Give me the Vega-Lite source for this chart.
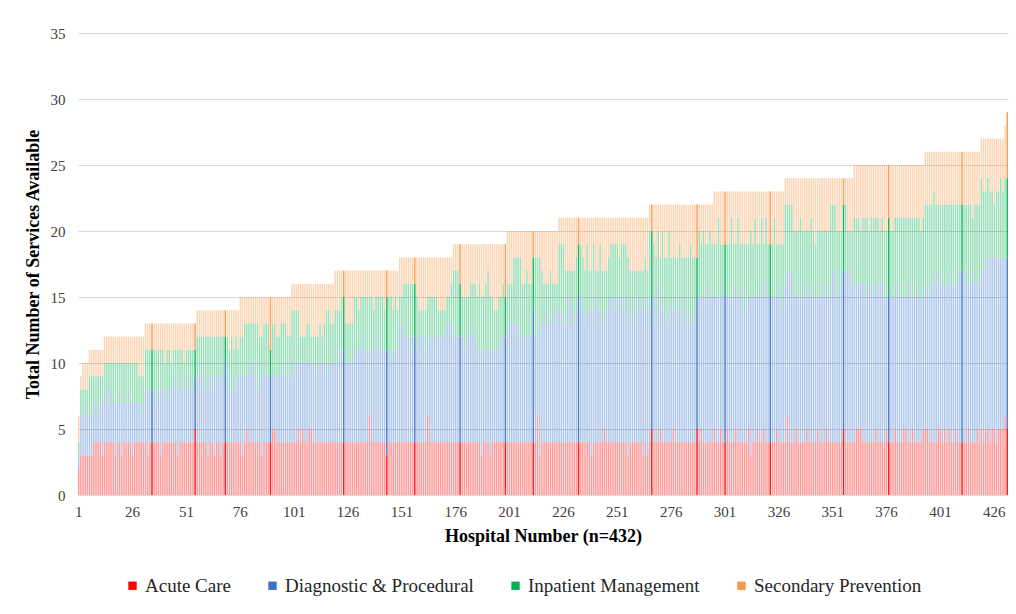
{
"$schema": "https://vega.github.io/schema/vega-lite/v6.json",
"width": 930,
"height": 462,
"autosize": {"type": "none"},
"padding": {"left": 78, "top": 33, "right": 8, "bottom": 119},
"background": "white",
"config": {"view": {"stroke": null}, "font": "Liberation Serif"},
"data": {"values": [
{"h":1,"a":2,"d":1,"i":1,"s":2},{"h":2,"a":3,"d":3,"i":2,"s":1},{"h":3,"a":3,"d":3,"i":2,"s":2},{"h":4,"a":3,"d":4,"i":1,"s":2},{"h":5,"a":3,"d":3,"i":2,"s":2},
{"h":6,"a":3,"d":3,"i":3,"s":2},{"h":7,"a":3,"d":3,"i":3,"s":2},{"h":8,"a":4,"d":3,"i":2,"s":2},{"h":9,"a":4,"d":3,"i":2,"s":2},{"h":10,"a":4,"d":2,"i":3,"s":2},{"h":11,"a":4,"d":3,"i":2,"s":2},{"h":12,"a":3,"d":4,"i":2,"s":2},
{"h":13,"a":4,"d":4,"i":2,"s":2},{"h":14,"a":4,"d":4,"i":2,"s":2},{"h":15,"a":4,"d":3,"i":3,"s":2},{"h":16,"a":4,"d":4,"i":2,"s":2},{"h":17,"a":4,"d":3,"i":3,"s":2},{"h":18,"a":3,"d":4,"i":3,"s":2},{"h":19,"a":4,"d":3,"i":3,"s":2},{"h":20,"a":4,"d":4,"i":2,"s":2},{"h":21,"a":3,"d":4,"i":3,"s":2},{"h":22,"a":4,"d":3,"i":3,"s":2},{"h":23,"a":4,"d":3,"i":3,"s":2},{"h":24,"a":4,"d":4,"i":2,"s":2},{"h":25,"a":4,"d":3,"i":3,"s":2},{"h":26,"a":3,"d":4,"i":3,"s":2},{"h":27,"a":4,"d":3,"i":3,"s":2},{"h":28,"a":4,"d":3,"i":3,"s":2},{"h":29,"a":4,"d":3,"i":2,"s":3},{"h":30,"a":4,"d":2,"i":3,"s":3},{"h":31,"a":4,"d":3,"i":2,"s":3},
{"h":32,"a":4,"d":4,"i":3,"s":2},{"h":33,"a":3,"d":5,"i":3,"s":2},{"h":34,"a":4,"d":4,"i":3,"s":2},{"h":35,"a":4,"d":4,"i":3,"s":2,"hl":1},{"h":36,"a":4,"d":4,"i":3,"s":2},{"h":37,"a":4,"d":3,"i":4,"s":2},{"h":38,"a":4,"d":4,"i":3,"s":2},{"h":39,"a":3,"d":5,"i":3,"s":2},{"h":40,"a":4,"d":4,"i":3,"s":2},{"h":41,"a":4,"d":4,"i":2,"s":3},{"h":42,"a":4,"d":4,"i":3,"s":2},{"h":43,"a":4,"d":3,"i":4,"s":2},{"h":44,"a":4,"d":4,"i":2,"s":3},{"h":45,"a":4,"d":5,"i":2,"s":2},{"h":46,"a":4,"d":4,"i":3,"s":2},{"h":47,"a":3,"d":5,"i":3,"s":2},{"h":48,"a":4,"d":5,"i":2,"s":2},{"h":49,"a":4,"d":4,"i":3,"s":2},{"h":50,"a":4,"d":4,"i":2,"s":3},{"h":51,"a":4,"d":4,"i":3,"s":2},{"h":52,"a":4,"d":5,"i":2,"s":2},{"h":53,"a":4,"d":4,"i":3,"s":2},{"h":54,"a":4,"d":4,"i":3,"s":2},{"h":55,"a":5,"d":4,"i":2,"s":2,"hl":1},
{"h":56,"a":4,"d":5,"i":3,"s":2},{"h":57,"a":4,"d":5,"i":3,"s":2},{"h":58,"a":4,"d":6,"i":2,"s":2},{"h":59,"a":4,"d":5,"i":3,"s":2},{"h":60,"a":4,"d":4,"i":4,"s":2},{"h":61,"a":3,"d":6,"i":3,"s":2},{"h":62,"a":4,"d":5,"i":3,"s":2},{"h":63,"a":4,"d":4,"i":4,"s":2},{"h":64,"a":3,"d":6,"i":3,"s":2},{"h":65,"a":4,"d":5,"i":3,"s":2},{"h":66,"a":4,"d":5,"i":3,"s":2},{"h":67,"a":3,"d":6,"i":3,"s":2},{"h":68,"a":4,"d":5,"i":3,"s":2},{"h":69,"a":4,"d":6,"i":2,"s":2,"hl":1},{"h":70,"a":4,"d":4,"i":4,"s":2},{"h":71,"a":4,"d":5,"i":2,"s":3},{"h":72,"a":4,"d":4,"i":4,"s":2},{"h":73,"a":4,"d":5,"i":2,"s":3},{"h":74,"a":4,"d":4,"i":4,"s":2},{"h":75,"a":4,"d":5,"i":2,"s":3},
{"h":76,"a":4,"d":5,"i":3,"s":3},{"h":77,"a":3,"d":6,"i":3,"s":3},{"h":78,"a":4,"d":5,"i":4,"s":2},{"h":79,"a":5,"d":4,"i":4,"s":2},{"h":80,"a":4,"d":5,"i":4,"s":2},{"h":81,"a":4,"d":6,"i":3,"s":2},{"h":82,"a":4,"d":6,"i":3,"s":2},{"h":83,"a":4,"d":5,"i":4,"s":2},{"h":84,"a":4,"d":4,"i":5,"s":2},{"h":85,"a":4,"d":5,"i":3,"s":3},{"h":86,"a":3,"d":6,"i":3,"s":3},{"h":87,"a":4,"d":6,"i":3,"s":2},{"h":88,"a":4,"d":5,"i":4,"s":2},{"h":89,"a":4,"d":5,"i":4,"s":2},{"h":90,"a":4,"d":5,"i":2,"s":4,"hl":1},{"h":91,"a":5,"d":4,"i":4,"s":2},{"h":92,"a":5,"d":4,"i":4,"s":2},{"h":93,"a":4,"d":5,"i":3,"s":3},{"h":94,"a":4,"d":5,"i":3,"s":3},{"h":95,"a":4,"d":5,"i":4,"s":2},{"h":96,"a":4,"d":6,"i":3,"s":2},{"h":97,"a":4,"d":5,"i":4,"s":2},{"h":98,"a":4,"d":5,"i":3,"s":3},{"h":99,"a":4,"d":5,"i":3,"s":3},
{"h":100,"a":4,"d":6,"i":4,"s":2},{"h":101,"a":4,"d":5,"i":5,"s":2},{"h":102,"a":4,"d":6,"i":4,"s":2},{"h":103,"a":5,"d":5,"i":4,"s":2},{"h":104,"a":4,"d":6,"i":2,"s":4},{"h":105,"a":5,"d":5,"i":2,"s":4},{"h":106,"a":4,"d":6,"i":2,"s":4},{"h":107,"a":4,"d":6,"i":3,"s":3},{"h":108,"a":5,"d":5,"i":3,"s":3},{"h":109,"a":5,"d":5,"i":2,"s":4},{"h":110,"a":4,"d":6,"i":2,"s":4},{"h":111,"a":4,"d":5,"i":3,"s":4},{"h":112,"a":4,"d":6,"i":2,"s":4},{"h":113,"a":4,"d":6,"i":3,"s":3},{"h":114,"a":4,"d":6,"i":2,"s":4},{"h":115,"a":4,"d":6,"i":3,"s":3},{"h":116,"a":4,"d":6,"i":4,"s":2},{"h":117,"a":4,"d":5,"i":5,"s":2},{"h":118,"a":4,"d":6,"i":3,"s":3},{"h":119,"a":4,"d":6,"i":3,"s":3},
{"h":120,"a":4,"d":6,"i":4,"s":3},{"h":121,"a":4,"d":6,"i":4,"s":3},{"h":122,"a":4,"d":7,"i":3,"s":3},{"h":123,"a":4,"d":7,"i":4,"s":2},{"h":124,"a":4,"d":7,"i":4,"s":2,"hl":1},{"h":125,"a":4,"d":6,"i":3,"s":4},{"h":126,"a":4,"d":6,"i":3,"s":4},{"h":127,"a":4,"d":6,"i":3,"s":4},{"h":128,"a":4,"d":6,"i":3,"s":4},{"h":129,"a":4,"d":7,"i":4,"s":2},{"h":130,"a":4,"d":7,"i":4,"s":2},{"h":131,"a":4,"d":7,"i":3,"s":3},{"h":132,"a":4,"d":7,"i":4,"s":2},{"h":133,"a":4,"d":8,"i":3,"s":2},{"h":134,"a":4,"d":7,"i":4,"s":2},{"h":135,"a":4,"d":7,"i":4,"s":2},{"h":136,"a":6,"d":5,"i":4,"s":2},{"h":137,"a":4,"d":7,"i":4,"s":2},{"h":138,"a":4,"d":7,"i":3,"s":3},{"h":139,"a":4,"d":7,"i":4,"s":2},{"h":140,"a":4,"d":8,"i":3,"s":2},{"h":141,"a":4,"d":7,"i":4,"s":2},{"h":142,"a":4,"d":7,"i":4,"s":2},{"h":143,"a":4,"d":7,"i":3,"s":3},{"h":144,"a":3,"d":8,"i":4,"s":2,"hl":1},{"h":145,"a":4,"d":7,"i":4,"s":2},{"h":146,"a":4,"d":6,"i":5,"s":2},{"h":147,"a":4,"d":7,"i":3,"s":3},{"h":148,"a":4,"d":7,"i":4,"s":2},{"h":149,"a":4,"d":7,"i":3,"s":3},
{"h":150,"a":4,"d":9,"i":2,"s":3},{"h":151,"a":4,"d":9,"i":2,"s":3},{"h":152,"a":4,"d":8,"i":4,"s":2},{"h":153,"a":4,"d":8,"i":4,"s":2},{"h":154,"a":4,"d":8,"i":4,"s":2},{"h":155,"a":4,"d":8,"i":4,"s":2},{"h":156,"a":4,"d":7,"i":5,"s":2},{"h":157,"a":4,"d":8,"i":4,"s":2,"hl":1},{"h":158,"a":4,"d":7,"i":4,"s":3},{"h":159,"a":4,"d":8,"i":2,"s":4},{"h":160,"a":4,"d":8,"i":2,"s":4},{"h":161,"a":4,"d":8,"i":2,"s":4},{"h":162,"a":4,"d":7,"i":3,"s":4},{"h":163,"a":6,"d":6,"i":3,"s":3},{"h":164,"a":4,"d":8,"i":3,"s":3},{"h":165,"a":4,"d":7,"i":4,"s":3},{"h":166,"a":4,"d":8,"i":3,"s":3},{"h":167,"a":4,"d":8,"i":3,"s":3},{"h":168,"a":4,"d":8,"i":2,"s":4},{"h":169,"a":4,"d":8,"i":2,"s":4},{"h":170,"a":4,"d":8,"i":2,"s":4},{"h":171,"a":4,"d":8,"i":2,"s":4},{"h":172,"a":4,"d":9,"i":2,"s":3},{"h":173,"a":4,"d":9,"i":2,"s":3},{"h":174,"a":4,"d":9,"i":3,"s":2},
{"h":175,"a":4,"d":8,"i":5,"s":2},{"h":176,"a":4,"d":8,"i":5,"s":2},{"h":177,"a":4,"d":8,"i":5,"s":2},{"h":178,"a":4,"d":8,"i":4,"s":3,"hl":1},{"h":179,"a":4,"d":8,"i":3,"s":4},{"h":180,"a":4,"d":7,"i":4,"s":4},{"h":181,"a":4,"d":8,"i":3,"s":4},{"h":182,"a":4,"d":8,"i":3,"s":4},{"h":183,"a":4,"d":8,"i":4,"s":3},{"h":184,"a":4,"d":9,"i":3,"s":3},{"h":185,"a":4,"d":8,"i":4,"s":3},{"h":186,"a":4,"d":7,"i":4,"s":4},{"h":187,"a":4,"d":7,"i":5,"s":3},{"h":188,"a":3,"d":8,"i":4,"s":4},{"h":189,"a":4,"d":7,"i":4,"s":4},{"h":190,"a":4,"d":7,"i":5,"s":3},{"h":191,"a":4,"d":7,"i":6,"s":2},{"h":192,"a":3,"d":8,"i":4,"s":4},{"h":193,"a":4,"d":7,"i":4,"s":4},{"h":194,"a":4,"d":7,"i":3,"s":5},{"h":195,"a":4,"d":7,"i":3,"s":5},{"h":196,"a":4,"d":7,"i":4,"s":4},{"h":197,"a":4,"d":8,"i":3,"s":4},{"h":198,"a":4,"d":8,"i":4,"s":3},{"h":199,"a":4,"d":8,"i":3,"s":4,"hl":1},
{"h":200,"a":4,"d":9,"i":3,"s":4},{"h":201,"a":4,"d":9,"i":3,"s":4},{"h":202,"a":4,"d":9,"i":3,"s":4},{"h":203,"a":4,"d":9,"i":5,"s":2},{"h":204,"a":4,"d":9,"i":5,"s":2},{"h":205,"a":4,"d":9,"i":5,"s":2},{"h":206,"a":4,"d":8,"i":6,"s":2},{"h":207,"a":4,"d":8,"i":4,"s":4},{"h":208,"a":4,"d":8,"i":4,"s":4},{"h":209,"a":4,"d":8,"i":5,"s":3},{"h":210,"a":4,"d":8,"i":4,"s":4},{"h":211,"a":4,"d":8,"i":4,"s":4},{"h":212,"a":4,"d":10,"i":4,"s":2,"hl":1},{"h":213,"a":4,"d":8,"i":6,"s":2},{"h":214,"a":6,"d":6,"i":6,"s":2},{"h":215,"a":3,"d":10,"i":5,"s":2},{"h":216,"a":4,"d":9,"i":4,"s":3},{"h":217,"a":4,"d":9,"i":3,"s":4},{"h":218,"a":4,"d":10,"i":2,"s":4},{"h":219,"a":4,"d":9,"i":3,"s":4},{"h":220,"a":4,"d":9,"i":4,"s":3},{"h":221,"a":4,"d":10,"i":2,"s":4},{"h":222,"a":4,"d":9,"i":3,"s":4},{"h":223,"a":4,"d":10,"i":2,"s":4},
{"h":224,"a":4,"d":10,"i":5,"s":2},{"h":225,"a":4,"d":10,"i":5,"s":2},{"h":226,"a":4,"d":9,"i":6,"s":2},{"h":227,"a":4,"d":9,"i":4,"s":4},{"h":228,"a":4,"d":10,"i":3,"s":4},{"h":229,"a":4,"d":11,"i":2,"s":4},{"h":230,"a":4,"d":10,"i":3,"s":4},{"h":231,"a":4,"d":9,"i":4,"s":4},{"h":232,"a":4,"d":10,"i":4,"s":3},{"h":233,"a":4,"d":11,"i":4,"s":2,"hl":1},{"h":234,"a":4,"d":11,"i":4,"s":2},{"h":235,"a":4,"d":10,"i":4,"s":3},{"h":236,"a":4,"d":9,"i":4,"s":4},{"h":237,"a":4,"d":10,"i":5,"s":2},{"h":238,"a":4,"d":10,"i":3,"s":4},{"h":239,"a":3,"d":11,"i":3,"s":4},{"h":240,"a":4,"d":10,"i":5,"s":2},{"h":241,"a":4,"d":11,"i":2,"s":4},{"h":242,"a":4,"d":10,"i":3,"s":4},{"h":243,"a":4,"d":10,"i":5,"s":2},{"h":244,"a":4,"d":9,"i":4,"s":4},{"h":245,"a":5,"d":9,"i":3,"s":4},{"h":246,"a":4,"d":10,"i":3,"s":4},{"h":247,"a":4,"d":11,"i":3,"s":3},{"h":248,"a":4,"d":11,"i":4,"s":2},{"h":249,"a":4,"d":11,"i":4,"s":2},{"h":250,"a":4,"d":10,"i":5,"s":2},{"h":251,"a":4,"d":11,"i":4,"s":2},{"h":252,"a":4,"d":11,"i":3,"s":3},{"h":253,"a":4,"d":11,"i":4,"s":2},{"h":254,"a":4,"d":10,"i":5,"s":2},{"h":255,"a":4,"d":11,"i":4,"s":2},{"h":256,"a":3,"d":10,"i":5,"s":3},{"h":257,"a":4,"d":10,"i":3,"s":4},{"h":258,"a":4,"d":11,"i":2,"s":4},{"h":259,"a":4,"d":10,"i":3,"s":4},{"h":260,"a":4,"d":9,"i":4,"s":4},{"h":261,"a":4,"d":11,"i":2,"s":4},{"h":262,"a":4,"d":10,"i":3,"s":4},{"h":263,"a":3,"d":11,"i":3,"s":4},{"h":264,"a":4,"d":11,"i":3,"s":3},{"h":265,"a":3,"d":11,"i":3,"s":4},
{"h":266,"a":4,"d":10,"i":6,"s":2},{"h":267,"a":5,"d":10,"i":5,"s":2,"hl":1},{"h":268,"a":4,"d":11,"i":4,"s":3},{"h":269,"a":4,"d":9,"i":5,"s":4},{"h":270,"a":4,"d":12,"i":4,"s":2},{"h":271,"a":5,"d":9,"i":4,"s":4},{"h":272,"a":4,"d":10,"i":6,"s":2},{"h":273,"a":4,"d":11,"i":3,"s":4},{"h":274,"a":4,"d":9,"i":5,"s":4},{"h":275,"a":4,"d":10,"i":6,"s":2},{"h":276,"a":4,"d":10,"i":4,"s":4},{"h":277,"a":5,"d":9,"i":4,"s":4},{"h":278,"a":4,"d":11,"i":3,"s":4},{"h":279,"a":4,"d":10,"i":4,"s":4},{"h":280,"a":4,"d":10,"i":5,"s":3},{"h":281,"a":4,"d":9,"i":5,"s":4},{"h":282,"a":4,"d":11,"i":3,"s":4},{"h":283,"a":4,"d":10,"i":4,"s":4},{"h":284,"a":4,"d":9,"i":5,"s":4},{"h":285,"a":4,"d":10,"i":5,"s":3},{"h":286,"a":4,"d":9,"i":5,"s":4},{"h":287,"a":4,"d":10,"i":4,"s":4},{"h":288,"a":5,"d":10,"i":3,"s":4,"hl":1},{"h":289,"a":4,"d":11,"i":5,"s":2},{"h":290,"a":5,"d":10,"i":4,"s":3},{"h":291,"a":4,"d":11,"i":5,"s":2},{"h":292,"a":4,"d":11,"i":4,"s":3},{"h":293,"a":4,"d":12,"i":3,"s":3},{"h":294,"a":4,"d":11,"i":5,"s":2},{"h":295,"a":4,"d":11,"i":4,"s":3},
{"h":296,"a":5,"d":10,"i":4,"s":4},{"h":297,"a":4,"d":11,"i":4,"s":4},{"h":298,"a":4,"d":11,"i":6,"s":2},{"h":299,"a":5,"d":10,"i":4,"s":4},{"h":300,"a":4,"d":12,"i":3,"s":4},{"h":301,"a":4,"d":11,"i":4,"s":4,"hl":1},{"h":302,"a":5,"d":10,"i":4,"s":4},{"h":303,"a":4,"d":11,"i":4,"s":4},{"h":304,"a":4,"d":11,"i":6,"s":2},{"h":305,"a":4,"d":11,"i":4,"s":4},{"h":306,"a":5,"d":11,"i":3,"s":4},{"h":307,"a":4,"d":11,"i":6,"s":2},{"h":308,"a":4,"d":11,"i":4,"s":4},{"h":309,"a":4,"d":10,"i":5,"s":4},{"h":310,"a":4,"d":12,"i":3,"s":4},{"h":311,"a":4,"d":10,"i":5,"s":4},{"h":312,"a":5,"d":10,"i":4,"s":4},{"h":313,"a":3,"d":12,"i":5,"s":3},{"h":314,"a":4,"d":11,"i":4,"s":4},{"h":315,"a":4,"d":11,"i":6,"s":2},{"h":316,"a":5,"d":10,"i":4,"s":4},{"h":317,"a":4,"d":12,"i":3,"s":4},{"h":318,"a":4,"d":11,"i":6,"s":2},{"h":319,"a":5,"d":10,"i":4,"s":4},{"h":320,"a":4,"d":12,"i":5,"s":2},{"h":321,"a":4,"d":11,"i":4,"s":4},{"h":322,"a":4,"d":11,"i":4,"s":4,"hl":1},{"h":323,"a":4,"d":11,"i":4,"s":4},{"h":324,"a":4,"d":11,"i":6,"s":2},{"h":325,"a":5,"d":10,"i":4,"s":4},{"h":326,"a":4,"d":12,"i":3,"s":4},{"h":327,"a":4,"d":10,"i":5,"s":4},{"h":328,"a":4,"d":11,"i":4,"s":4},
{"h":329,"a":4,"d":12,"i":6,"s":2},{"h":330,"a":6,"d":11,"i":5,"s":2},{"h":331,"a":4,"d":13,"i":5,"s":2},{"h":332,"a":4,"d":13,"i":5,"s":2},{"h":333,"a":4,"d":11,"i":5,"s":4},{"h":334,"a":5,"d":10,"i":5,"s":4},{"h":335,"a":4,"d":11,"i":5,"s":4},{"h":336,"a":4,"d":11,"i":6,"s":3},{"h":337,"a":4,"d":12,"i":4,"s":4},{"h":338,"a":4,"d":11,"i":5,"s":4},{"h":339,"a":5,"d":10,"i":5,"s":4},{"h":340,"a":4,"d":12,"i":4,"s":4},{"h":341,"a":4,"d":11,"i":6,"s":3},{"h":342,"a":4,"d":11,"i":5,"s":4},{"h":343,"a":4,"d":11,"i":4,"s":5},{"h":344,"a":5,"d":10,"i":5,"s":4},{"h":345,"a":4,"d":11,"i":5,"s":4},{"h":346,"a":4,"d":12,"i":4,"s":4},{"h":347,"a":4,"d":11,"i":5,"s":4},{"h":348,"a":5,"d":10,"i":5,"s":4},{"h":349,"a":4,"d":12,"i":4,"s":4},{"h":350,"a":4,"d":11,"i":7,"s":2},{"h":351,"a":4,"d":13,"i":5,"s":2},{"h":352,"a":4,"d":13,"i":5,"s":2},{"h":353,"a":4,"d":11,"i":5,"s":4},{"h":354,"a":4,"d":11,"i":5,"s":4},{"h":355,"a":4,"d":12,"i":4,"s":4},{"h":356,"a":5,"d":12,"i":5,"s":2,"hl":1},{"h":357,"a":4,"d":13,"i":5,"s":2},{"h":358,"a":4,"d":13,"i":3,"s":4},{"h":359,"a":4,"d":13,"i":3,"s":4},{"h":360,"a":4,"d":12,"i":4,"s":4},
{"h":361,"a":4,"d":12,"i":5,"s":4},{"h":362,"a":5,"d":11,"i":5,"s":4},{"h":363,"a":5,"d":11,"i":5,"s":4},{"h":364,"a":5,"d":11,"i":4,"s":5},{"h":365,"a":4,"d":12,"i":5,"s":4},{"h":366,"a":4,"d":11,"i":6,"s":4},{"h":367,"a":4,"d":12,"i":5,"s":4},{"h":368,"a":4,"d":12,"i":4,"s":5},{"h":369,"a":4,"d":12,"i":5,"s":4},{"h":370,"a":4,"d":11,"i":6,"s":4},{"h":371,"a":5,"d":11,"i":5,"s":4},{"h":372,"a":4,"d":12,"i":5,"s":4},{"h":373,"a":4,"d":12,"i":4,"s":5},{"h":374,"a":4,"d":12,"i":5,"s":4},{"h":375,"a":4,"d":11,"i":5,"s":5},{"h":376,"a":5,"d":10,"i":5,"s":5},{"h":377,"a":4,"d":11,"i":6,"s":4,"hl":1},{"h":378,"a":4,"d":12,"i":4,"s":5},{"h":379,"a":4,"d":11,"i":5,"s":5},{"h":380,"a":5,"d":10,"i":6,"s":4},{"h":381,"a":4,"d":12,"i":5,"s":4},{"h":382,"a":4,"d":11,"i":6,"s":4},{"h":383,"a":4,"d":11,"i":6,"s":4},{"h":384,"a":5,"d":10,"i":6,"s":4},{"h":385,"a":5,"d":10,"i":6,"s":4},{"h":386,"a":4,"d":12,"i":5,"s":4},{"h":387,"a":4,"d":11,"i":6,"s":4},{"h":388,"a":5,"d":10,"i":6,"s":4},{"h":389,"a":4,"d":11,"i":6,"s":4},{"h":390,"a":4,"d":12,"i":5,"s":4},{"h":391,"a":4,"d":11,"i":6,"s":4},{"h":392,"a":4,"d":11,"i":5,"s":5},{"h":393,"a":5,"d":10,"i":6,"s":4},
{"h":394,"a":5,"d":11,"i":6,"s":4},{"h":395,"a":5,"d":11,"i":6,"s":4},{"h":396,"a":4,"d":11,"i":7,"s":4},{"h":397,"a":4,"d":12,"i":6,"s":4},{"h":398,"a":4,"d":13,"i":6,"s":3},{"h":399,"a":4,"d":12,"i":6,"s":4},{"h":400,"a":5,"d":12,"i":5,"s":4},{"h":401,"a":5,"d":11,"i":6,"s":4},{"h":402,"a":4,"d":12,"i":6,"s":4},{"h":403,"a":5,"d":11,"i":6,"s":4},{"h":404,"a":4,"d":12,"i":6,"s":4},{"h":405,"a":5,"d":11,"i":6,"s":4},{"h":406,"a":4,"d":13,"i":5,"s":4},{"h":407,"a":4,"d":12,"i":6,"s":4},{"h":408,"a":5,"d":11,"i":6,"s":4},{"h":409,"a":4,"d":12,"i":6,"s":4},{"h":410,"a":4,"d":13,"i":5,"s":4},{"h":411,"a":4,"d":13,"i":5,"s":4,"hl":1},{"h":412,"a":4,"d":12,"i":6,"s":4},{"h":413,"a":4,"d":13,"i":5,"s":4},{"h":414,"a":5,"d":11,"i":6,"s":4},{"h":415,"a":4,"d":12,"i":6,"s":4},{"h":416,"a":4,"d":12,"i":5,"s":5},{"h":417,"a":4,"d":13,"i":5,"s":4},{"h":418,"a":5,"d":11,"i":6,"s":4},{"h":419,"a":4,"d":12,"i":6,"s":4},
{"h":420,"a":5,"d":12,"i":7,"s":3},{"h":421,"a":4,"d":13,"i":6,"s":4},{"h":422,"a":5,"d":13,"i":5,"s":4},{"h":423,"a":5,"d":13,"i":6,"s":3},{"h":424,"a":4,"d":14,"i":5,"s":4},{"h":425,"a":5,"d":13,"i":5,"s":4},{"h":426,"a":5,"d":13,"i":4,"s":5},{"h":427,"a":4,"d":14,"i":5,"s":4},{"h":428,"a":5,"d":13,"i":5,"s":4},{"h":429,"a":5,"d":13,"i":6,"s":3},{"h":430,"a":5,"d":13,"i":5,"s":4},
{"h":431,"a":6,"d":12,"i":6,"s":4},{"h":432,"a":5,"d":13,"i":6,"s":5,"hl":1}
]},
"transform": [{"fold": ["a", "d", "i", "s"], "as": ["cat", "n"]}],
"mark": {"type": "bar"},
"encoding": {
  "x": {
    "field": "h", "type": "ordinal",
    "scale": {"paddingInner": 0.3, "paddingOuter": 0},
    "axis": {
      "values": [1,26,51,76,101,126,151,176,201,226,251,276,301,326,351,376,401,426],
      "labelAngle": 0, "ticks": false, "domain": false,
      "labelFont": "Liberation Serif", "labelFontSize": 15, "labelColor": "#404040", "labelPadding": 9,
      "title": "Hospital Number (n=432)", "titleFont": "Liberation Serif", "titleFontSize": 18, "titleFontWeight": "bold", "titleColor": "#000000", "titlePadding": 8
    }
  },
  "y": {
    "field": "n", "type": "quantitative", "stack": "zero",
    "scale": {"domain": [0, 35], "nice": false},
    "axis": {
      "values": [0,5,10,15,20,25,30,35], "domain": false, "ticks": false,
      "grid": true, "gridColor": "#d9d9d9", "gridWidth": 1,
      "labelFont": "Liberation Serif", "labelFontSize": 15, "labelColor": "#404040", "labelPadding": 13,
      "title": "Total Number of Services Available", "titleFont": "Liberation Serif", "titleFontSize": 18, "titleFontWeight": "bold", "titleColor": "#000000", "titlePadding": 8
    }
  },
  "color": {
    "field": "cat", "type": "nominal",
    "scale": {"domain": ["a", "d", "i", "s"], "range": ["#ff0000", "#3a72c8", "#00b050", "#f79646"]},
    "legend": {
      "orient": "none", "legendX": 45, "legendY": 543, "direction": "horizontal", "title": null,
      "symbolType": "square", "symbolSize": 70, "symbolStrokeWidth": 0, "symbolOpacity": 1,
      "labelFont": "Liberation Serif", "labelFontSize": 19, "labelLimit": 400, "labelColor": "#262626", "labelOffset": 3, "columnPadding": 32,
      "labelExpr": "datum.label == 'a' ? 'Acute Care' : datum.label == 'd' ? 'Diagnostic & Procedural' : datum.label == 'i' ? 'Inpatient Management' : 'Secondary Prevention'"
    }
  },
  "order": {"field": "cat", "sort": "ascending"},
  "opacity": {"condition": {"test": "datum.hl == 1", "value": 0.9}, "value": 0.4}
}
}
